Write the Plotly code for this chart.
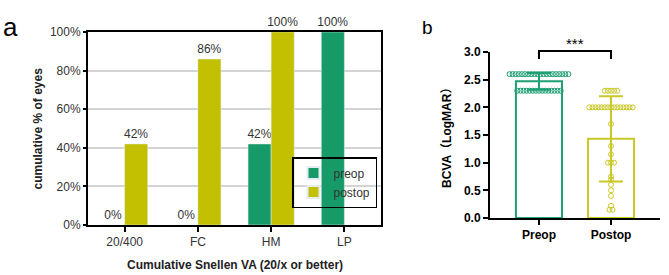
import plotly.graph_objects as go
from collections import Counter

# ---------- Panel a data ----------
categories = ["20/400", "FC", "HM", "LP"]
preop_pct = [0, 0, 42, 100]
postop_pct = [42, 86, 100, None]
pct_ticks = [0, 20, 40, 60, 80, 100]

# ---------- Panel b data ----------
groups = ["Preop", "Postop"]
group_pos = [0, 1]
mean_logmar = [2.47, 1.43]
sd_logmar = [0.15, 0.77]
logmar_ticks = [0, 0.5, 1.0, 1.5, 2.0, 2.5, 3.0]
preop_points = [2.6] * 20 + [2.3] * 15
postop_points = ([2.3] * 5 + [2.0] * 15 +
                 [1.7, 1.3, 1.15, 1.0, 1.0, 1.0, 0.75, 0.7, 0.6, 0.5, 0.4, 0.22, 0.15, 0.15])

GREEN = "#169b68"
YELLOW = "#c2c000"
GREEN_B = "#1f9f74"
YELLOW_B = "#c9c826"
FONT = "Liberation Sans, Arial, Noto Sans CJK SC, sans-serif"

W, H = 669, 275

def px_x(p):
    return p / W

def px_y(p):
    return 1 - p / H

fig = go.Figure()

def fmt(v):
    return "" if v is None else f"{v}%"

for name, vals, col in [("preop", preop_pct, GREEN), ("postop", postop_pct, YELLOW)]:
    fig.add_trace(go.Bar(
        x=categories, y=vals, name=name, marker_color=col,
        text=[fmt(v) for v in vals], textposition="outside", cliponaxis=False,
        constraintext="none",
        textfont=dict(size=12, color="#333", family=FONT),
        xaxis="x", yaxis="y"))

# Panel b bars
bar_cols = [GREEN_B, YELLOW_B]
for i in range(2):
    fig.add_trace(go.Bar(
        x=[group_pos[i]], y=[mean_logmar[i]], width=0.64, offset=-0.32,
        marker=dict(color="white", line=dict(color=bar_cols[i], width=2)),
        error_y=dict(type="data", array=[sd_logmar[i]], color=bar_cols[i],
                     thickness=2, width=12),
        showlegend=False, xaxis="x2", yaxis="y2", hoverinfo="skip"))

def swarm(values, center, spacing=0.043):
    counts = Counter(values)
    seen = Counter()
    xs = []
    for v in values:
        k = counts[v]
        i = seen[v]
        seen[v] += 1
        xs.append(center + (i - (k - 1) / 2) * spacing)
    return xs

for pts, c, col in [(preop_points, 0, GREEN_B), (postop_points, 1, YELLOW_B)]:
    fig.add_trace(go.Scatter(
        x=swarm(pts, c), y=pts, mode="markers",
        marker=dict(symbol="circle-open", size=5, color=col, line=dict(width=1, color=col)),
        showlegend=False, xaxis="x2", yaxis="y2", hoverinfo="skip"))

ax_a = dict(x0=88, x1=381, y0=32, y1=225)
ax_b = dict(x0=490, x1=660, y0=52, y1=218)

fig.update_layout(
    width=W, height=H,
    margin=dict(l=0, r=0, t=0, b=0, autoexpand=False),
    paper_bgcolor="white", plot_bgcolor="white",
    font=dict(family=FONT, size=12, color="#333"),
    barmode="group", bargap=0.37, bargroupgap=0,
    showlegend=True,
    legend=dict(x=px_x(292), y=px_y(157), xanchor="left", yanchor="top",
                bgcolor="rgba(0,0,0,0)", bordercolor="black", borderwidth=1.5,
                font=dict(size=12, color="#333"), itemsizing="constant",
                tracegroupgap=0),
    xaxis=dict(domain=[px_x(ax_a["x0"]), px_x(ax_a["x1"])], anchor="y", automargin=False,
               showline=True, linecolor="black", linewidth=2, mirror=True,
               ticks="outside", ticklen=5, tickwidth=2, tickcolor="black",
               tickfont=dict(size=12, color="#333"), showgrid=False, fixedrange=True),
    yaxis=dict(domain=[px_y(ax_a["y1"]), px_y(ax_a["y0"])], anchor="x", automargin=False,
               range=[0, 100], tickmode="array", tickvals=pct_ticks,
               ticktext=[f"{t}%" for t in pct_ticks],
               showline=True, linecolor="black", linewidth=2, mirror=True,
               ticks="outside", ticklen=3, tickwidth=1.5, tickcolor="black",
               showgrid=True, gridcolor="#d4d4d4", gridwidth=1.5, zeroline=False,
               tickfont=dict(size=12, color="#333")),
    xaxis2=dict(domain=[px_x(ax_b["x0"]), px_x(ax_b["x1"])], anchor="y2", automargin=False,
                range=[-0.68, 1.68], tickmode="array", tickvals=group_pos, ticktext=groups,
                showline=True, linecolor="black", linewidth=2,
                ticks="outside", ticklen=5, tickwidth=2, tickcolor="black",
                tickfont=dict(size=12, color="black", family=FONT, weight="bold"),
                showgrid=False, zeroline=False),
    yaxis2=dict(domain=[px_y(ax_b["y1"]), px_y(ax_b["y0"])], anchor="x2", automargin=False,
                range=[0, 3.0], tickmode="array", tickvals=logmar_ticks,
                ticktext=[f"{t:.1f}" for t in logmar_ticks],
                showline=True, linecolor="black", linewidth=2,
                ticks="outside", ticklen=5, tickwidth=2, tickcolor="black",
                tickfont=dict(size=12, color="black", family=FONT, weight="bold"),
                showgrid=False, zeroline=False),
)

def ann(text, x, y, size=12, color="#222", angle=0, xref="paper", xa="center", ya="middle"):
    return dict(text=text, x=x, y=y, xref=xref, yref="paper", textangle=angle,
                xanchor=xa, yanchor=ya, showarrow=False,
                font=dict(size=size, color=color))

annotations = [
    ann("a", px_x(10.5), px_y(27), size=26, color="black"),
    ann("b", px_x(427), px_y(28), size=19, color="black"),
    ann("<b>cumulative % of eyes</b>", px_x(37), px_y(128.5), angle=-90),
    ann("<b>Cumulative Snellen VA (20/x or better)</b>", px_x(235), px_y(265)),
    ann("<b>BCVA（LogMAR）</b>", px_x(447), px_y(135), color="black", angle=-90),
    ann("***", 0.5, px_y(43), size=15, color="black", xref="x2"),
]
fig.update_layout(annotations=annotations)

fig.add_shape(type="path",
              path=f"M 0,{px_y(59)} L 0,{px_y(51)} L 1,{px_y(51)} L 1,{px_y(59)}",
              xref="x2", yref="paper", line=dict(color="black", width=2))

fig.write_html("out.html", config={"displayModeBar": False},
               post_script="document.body.style.margin='0';document.body.style.overflow='hidden';")
